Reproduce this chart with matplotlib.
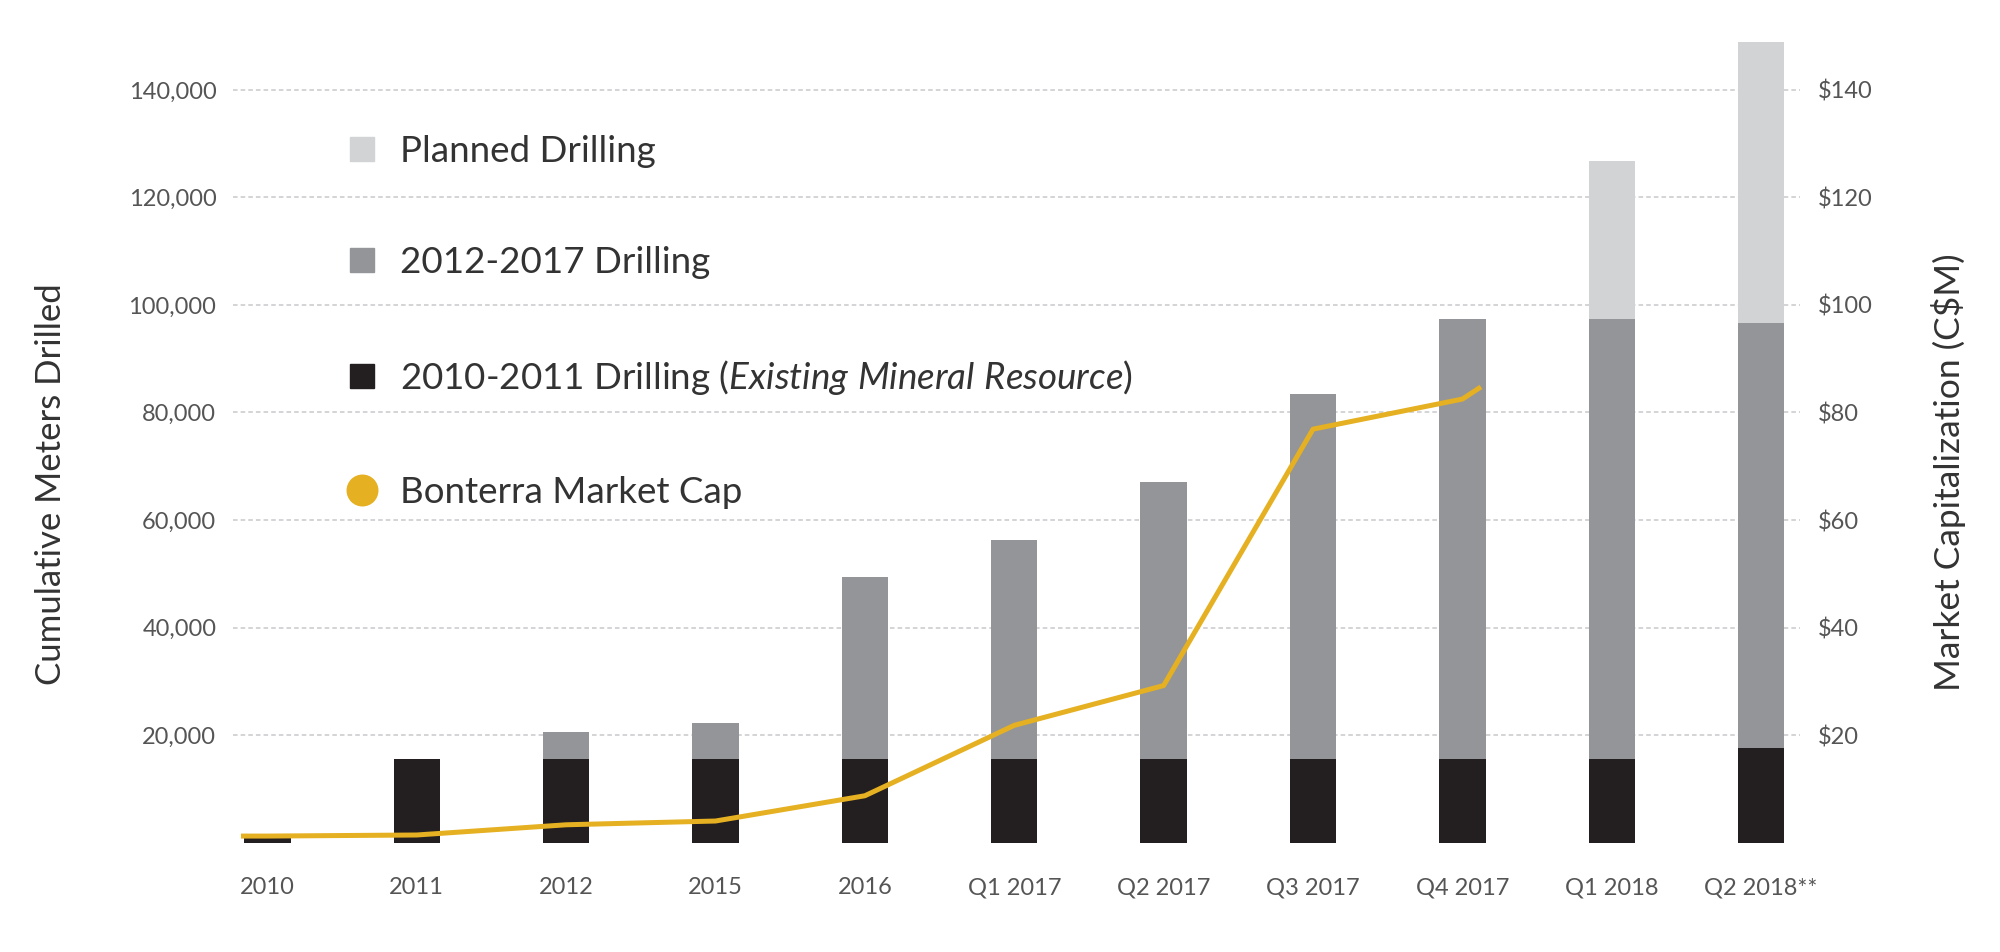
import matplotlib
matplotlib.use('Agg')
import matplotlib.pyplot as plt
from matplotlib.lines import Line2D
import numpy as np

plt.rcParams['font.family'] = ['Lato', 'DejaVu Sans']
plt.rcParams['mathtext.fontset'] = 'custom'
plt.rcParams['mathtext.rm'] = 'Lato'
plt.rcParams['mathtext.it'] = 'Lato:italic'

# data
periods = ['2010', '2011', '2012', '2015', '2016', 'Q1 2017', 'Q2 2017',
           'Q3 2017', 'Q4 2017', 'Q1 2018', 'Q2 2018**']
drill_2010_2011 = [1300, 15500, 15500, 15500, 15500, 15500, 15500, 15500, 15500, 15500, 17600]
drill_2012_2017 = [0, 0, 5100, 6800, 33900, 40800, 51600, 67900, 81900, 81900, 79000]
drill_planned = [0, 0, 0, 0, 0, 0, 0, 0, 0, 29300, 52400]

# market cap (C$M), positions on the period axis
cap_pos = [-0.16, 0, 1, 2, 3, 4, 5, 6, 7, 8, 8.11]
cap_value = [1.2, 1.2, 1.4, 3.3, 4.0, 8.7, 21.8, 29.2, 76.9, 82.5, 84.5]

left_ticks = [20000, 40000, 60000, 80000, 100000, 120000, 140000]
right_ticks = [20, 40, 60, 80, 100, 120, 140]

c_black = '#231f20'
c_grey = '#939598'
c_planned = '#d1d3d4'
c_gold = '#e5b021'
c_tick = '#555555'
c_text = '#333333'

fig = plt.figure(figsize=(20, 9.52), dpi=100)
ax = fig.add_axes([0.1165, 0.115, 0.7835, 0.8413])

x = np.arange(len(periods))
w = 0.31
b1 = np.array(drill_2010_2011)
b2 = np.array(drill_2012_2017)
ax.bar(x, b1, width=w, color=c_black, zorder=2)
ax.bar(x, b2, width=w, bottom=b1, color=c_grey, zorder=2)
ax.bar(x, drill_planned, width=w, bottom=b1 + b2, color=c_planned, zorder=2)

ax.set_xlim(-0.23, 10.26)
ax.set_ylim(0, 149000)
ax.set_yticks(left_ticks, [f'{v:,}' for v in left_ticks])
ax.set_xticks(x, periods)
ax.grid(axis='y', color='#c9c9cc', linestyle=(0, (3, 2)), linewidth=1.1, zorder=0)
ax.set_axisbelow(True)
for s in ax.spines.values():
    s.set_visible(False)
ax.tick_params(axis='y', length=0, pad=12, labelsize=17, labelcolor=c_tick)
ax.tick_params(axis='x', length=0, pad=25, labelsize=17, labelcolor=c_tick)

ax2 = ax.twinx()
ax2.plot(cap_pos, cap_value, color=c_gold, linewidth=3.6, solid_joinstyle='round', zorder=3)
ax2.set_ylim(0, 149)
ax2.set_yticks(right_ticks, ['\\$' + str(v) for v in right_ticks])
for s in ax2.spines.values():
    s.set_visible(False)
ax2.tick_params(axis='y', length=0, pad=13, labelsize=17, labelcolor=c_tick)

fig.text(0.0255, 0.491, 'Cumulative Meters Drilled', rotation=90, ha='center', va='center',
         fontsize=25, color=c_text)
fig.text(0.9745, 0.504, 'Market Capitalization (C\\$M)', rotation=90, ha='center', va='center',
         fontsize=25.5, color=c_text)

handles = [
    Line2D([], [], linestyle='none', marker='s', markersize=17, color=c_planned),
    Line2D([], [], linestyle='none', marker='s', markersize=17, color=c_grey),
    Line2D([], [], linestyle='none', marker='s', markersize=17, color=c_black),
    Line2D([], [], linestyle='none', marker='o', markersize=22, color=c_gold),
]
labels = ['Planned Drilling', '2012-2017 Drilling',
          r'2010-2011 Drilling ($\mathit{Existing\ Mineral\ Resource}$)',
          'Bonterra Market Cap']
leg = ax2.legend(handles, labels, loc='upper left', bbox_to_anchor=(0.1626, 0.878),
                 bbox_transform=fig.transFigure, frameon=False, borderpad=0,
                 handlelength=1.0, handletextpad=0.54, labelspacing=2.14,
                 prop={'size': 26.5}, labelcolor=c_text)

fig.savefig('out.png', dpi=100)
